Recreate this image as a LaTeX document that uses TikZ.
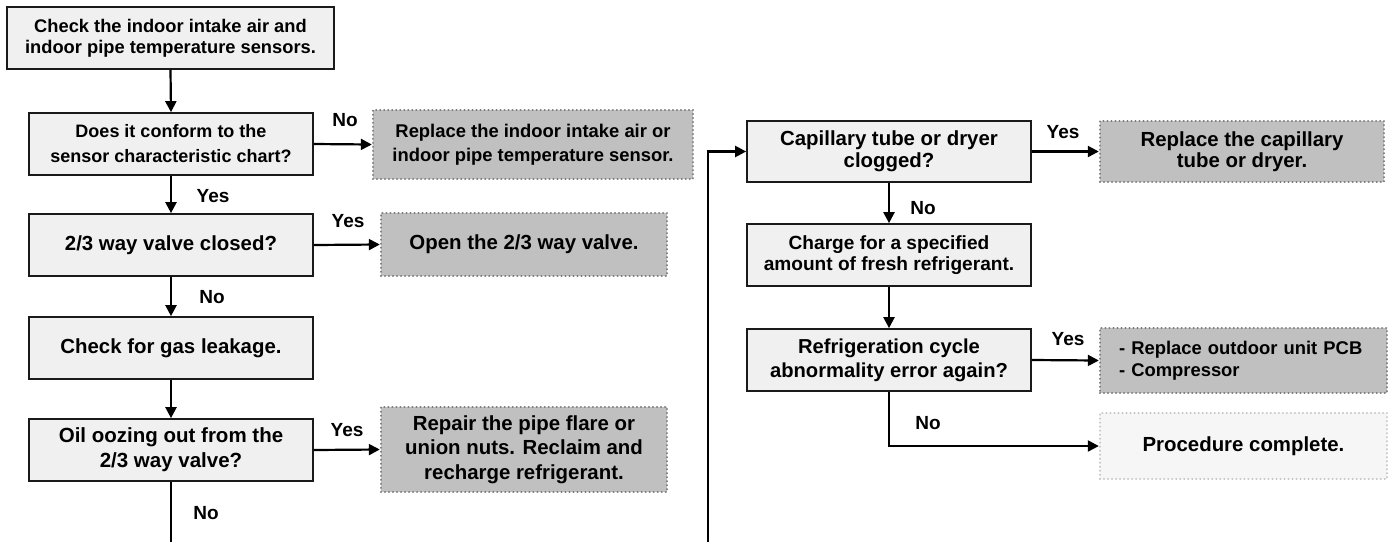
\documentclass[tikz,border=0pt]{standalone}
\usepackage{fontspec}
\setmainfont{Liberation Sans}
\usetikzlibrary{arrows.meta}
\definecolor{procfill}{HTML}{F0F0F0}
\definecolor{procdraw}{HTML}{1A1A1A}
\definecolor{actfill}{HTML}{C0C0C0}
\definecolor{actdraw}{HTML}{7A7A7A}
\definecolor{endfill}{HTML}{F6F6F6}
\definecolor{enddraw}{HTML}{C4C4C4}
\tikzset{
  procbox/.style={draw=procdraw, fill=procfill, line width=1.7pt, rectangle, align=center, inner sep=0pt},
  dotbord/.style={line width=2.4pt, line cap=round, dash pattern=on 0.01pt off 4pt},
  actbox/.style={draw=actdraw, fill=actfill, dotbord, rectangle, align=center, inner sep=0pt},
  endbox/.style={draw=enddraw, fill=endfill, dotbord, rectangle, align=center, inner sep=0pt},
  conn/.style={line width=2.2pt, draw=black},
  arr/.style={conn, -{Triangle[length=11pt,width=11pt]}},
  lbl/.style={font=\fontsize{19}{22}\selectfont\bfseries, inner sep=0pt},
  fA/.style={font=\fontsize{18.3}{21}\selectfont\bfseries},
  fB/.style={font=\fontsize{18}{25}\selectfont\bfseries},
  fC/.style={font=\fontsize{20.4}{24.5}\selectfont\bfseries},
}
\begin{document}
\begin{tikzpicture}[x=1pt,y=-1pt]
\useasboundingbox (0,0) rectangle (1389,542);
% left column
\node[procbox, fA, minimum width=327pt, minimum height=62pt] (b1) at (170.5,38) {Check the indoor intake air and\\indoor pipe temperature sensors.};
\node[procbox, fB, minimum width=284pt, minimum height=62pt] (b2) at (171,144) {Does it conform to the\\sensor characteristic chart?};
\node[actbox, font=\fontsize{18.4}{24}\selectfont\bfseries, minimum width=320pt, minimum height=69pt] (r1) at (533,144.5) {Replace the indoor intake air or\\indoor pipe temperature sensor.};
\node[procbox, fC, minimum width=284pt, minimum height=62pt] (b3) at (171,245) {2/3 way valve closed?};
\node[actbox, fC, minimum width=286pt, minimum height=63pt] (o1) at (524,244.5) {Open the 2/3 way valve.};
\node[procbox, fC, minimum width=284pt, minimum height=62pt] (b4) at (171,348) {Check for gas leakage.};
\node[procbox, font=\fontsize{20.5}{25}\selectfont\bfseries, minimum width=284pt, minimum height=62pt] (b5) at (171,450) {Oil oozing out from the\\2/3 way valve?};
\node[actbox, fC, minimum width=286pt, minimum height=85pt] (r2) at (524,449.5) {Repair the pipe flare or\\union nuts. Reclaim and\\recharge refrigerant.};
% right column
\node[procbox, font=\fontsize{20.4}{22}\selectfont\bfseries, minimum width=284pt, minimum height=61pt] (c1) at (889,151.5) {Capillary tube or dryer\\clogged?};
\node[actbox, font=\fontsize{20.4}{21}\selectfont\bfseries, minimum width=284pt, minimum height=61pt] (r3) at (1242,151.5) {Replace the capillary\\tube or dryer.};
\node[procbox, font=\fontsize{19.1}{21}\selectfont\bfseries, minimum width=284pt, minimum height=62pt] (c2) at (889,255) {Charge for a specified\\amount of fresh refrigerant.};
\node[procbox, font=\fontsize{20.2}{24}\selectfont\bfseries, minimum width=284pt, minimum height=62pt] (c3) at (889,360) {Refrigeration cycle\\abnormality error again?};
\node[actbox, font=\fontsize{18.4}{22}\selectfont\bfseries, align=left, text width=249pt, inner xsep=19pt, minimum width=287pt, minimum height=65pt] (r4) at (1243.5,360.5) {- Replace outdoor unit PCB\\- Compressor};
\node[endbox, fC, minimum width=287pt, minimum height=66pt] (p1) at (1243.5,446) {Procedure complete.};
% free ends
\coordinate (endL) at (171,542);
\coordinate (startR) at (708,542);
% connectors
\draw[arr] (b1.south) -- (b2.north);
\draw[arr] (b2.east) -- (r1.west);
\draw[arr] (b2.south) -- (b3.north);
\draw[arr] (b3.east) -- (o1.west);
\draw[arr] (b3.south) -- (b4.north);
\draw[arr] (b4.south) -- (b5.north);
\draw[arr] (b5.east) -- (r2.west);
\draw[conn] (b5.south) -- (endL);
\draw[arr] (startR) |- (c1.west);
\draw[arr] (c1.east) -- (r3.west);
\draw[arr] (c1.south) -- (c2.north);
\draw[arr] (c2.south) -- (c3.north);
\draw[arr] (c3.east) -- (r4.west);
\draw[arr] (c3.south) |- (p1.west);
% labels
\node[lbl] (lNo1) at (345,120) {No};
\node[lbl] (lYes1) at (213,196) {Yes};
\node[lbl] (lYes2) at (348,221) {Yes};
\node[lbl] (lNo2) at (212,297) {No};
\node[lbl] (lYes3) at (347,430) {Yes};
\node[lbl] (lNo3) at (206,513) {No};
\node[lbl] (lYes4) at (1063,132) {Yes};
\node[lbl] (lNo4) at (923,208) {No};
\node[lbl] (lYes5) at (1068,339) {Yes};
\node[lbl] (lNo5) at (928,423) {No};
\end{tikzpicture}
\end{document}
